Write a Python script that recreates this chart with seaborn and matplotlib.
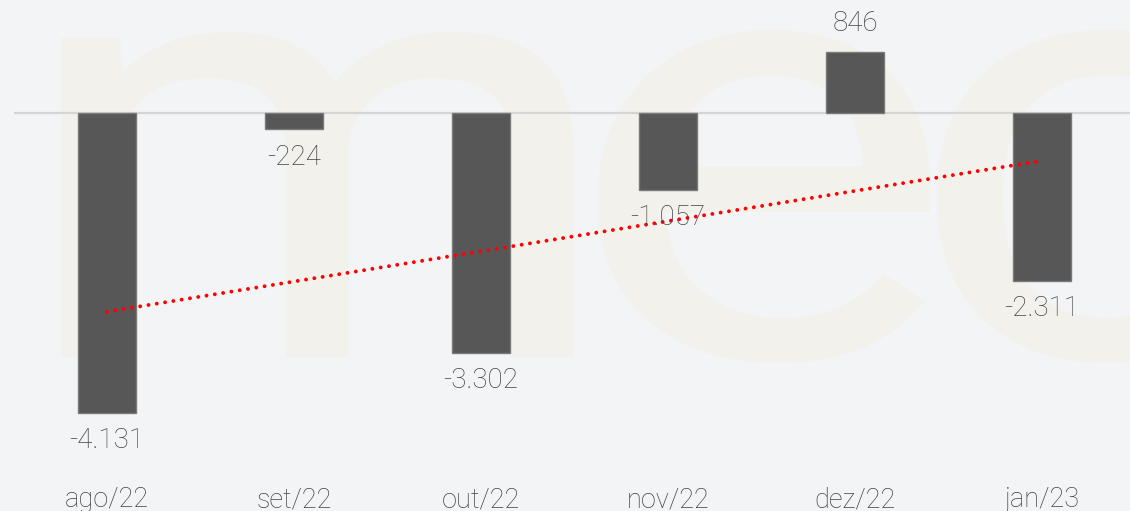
import numpy as np
import pandas as pd
import seaborn as sns
from matplotlib import pyplot as plt
from matplotlib.textpath import TextPath
from matplotlib.patches import PathPatch
from matplotlib.font_manager import FontProperties
from matplotlib.transforms import Affine2D

# monthly values (net balance)
months = ["ago/22", "set/22", "out/22", "nov/22", "dez/22", "jan/23"]
values = [-4131, -224, -3302, -1057, 846, -2311]

BG = "#f3f4f6"
BAR = "#575757"
TXT = "#444444"
W, H = 1130, 511

sns.set_theme(style="white")
plt.rcParams["font.family"] = ["Roboto", "DejaVu Sans"]

df = pd.DataFrame({"mes": months, "valor": values})

fig = plt.figure(figsize=(W / 100, H / 100), dpi=100, facecolor=BG)
ax = fig.add_axes([13.5 / W, 0, 1122 / W, 1])
ax.set_facecolor("none")

# watermark "mec" behind the chart, each letter fitted to a pixel box (x0, x1, top, bottom)
wm_boxes = [("m", 61, 573, 32, 357), ("e", 598, 930, 30, 363), ("c", 937, 1262, 30, 363)]
fp = FontProperties(family="Roboto")
for ch, x0, x1, top, bot in wm_boxes:
    tp = TextPath((0, 0), ch, size=100, prop=fp)
    bb = tp.get_extents()
    tr = (Affine2D().translate(-bb.x0, -bb.y0)
          .scale((x1 - x0) / bb.width, (bot - top) / bb.height)
          .translate(x0, H - bot)
          .scale(1 / W, 1 / H)) + fig.transFigure
    ax.add_patch(PathPatch(tp, transform=tr, facecolor="#f2f1eb", edgecolor="none",
                           clip_on=False, zorder=0))

sns.barplot(data=df, x="mes", y="valor", color=BAR, width=0.31, saturation=1,
            edgecolor="#7a7a7a", linewidth=1, ax=ax, zorder=2)

ax.axhline(0, color="#d5d5d8", lw=1.6, zorder=1)

# linear trend
sns.regplot(x=np.arange(len(values)), y=np.array(values), scatter=False, ci=None,
            ax=ax, line_kws=dict(color="#ff0000", lw=2.8, dashes=(0.01, 2.15),
                                 dash_capstyle="round", zorder=4))

for i, v in enumerate(values):
    lbl = f"{v:,}".replace(",", ".")
    off = 20 if v > 0 else -20
    ax.annotate(lbl, (i, v), xytext=(0, off), textcoords="offset points",
                ha="center", va="center", fontsize=20, fontweight="light",
                color=TXT, zorder=5)

for i, m in enumerate(months):
    ax.text(i, 4 / H, m, transform=ax.get_xaxis_transform(), ha="center",
            va="baseline", fontsize=19.5, fontweight="light", color=TXT)

ax.set_xlim(-0.5, 5.5)
ax.set_ylim(-398 / 0.07262, 113 / 0.07262)
ax.set_xlabel("")
ax.set_ylabel("")
ax.set_xticks([])
ax.set_yticks([])
sns.despine(ax=ax, left=True, bottom=True)

fig.savefig("out.png", dpi=100, facecolor=BG)
